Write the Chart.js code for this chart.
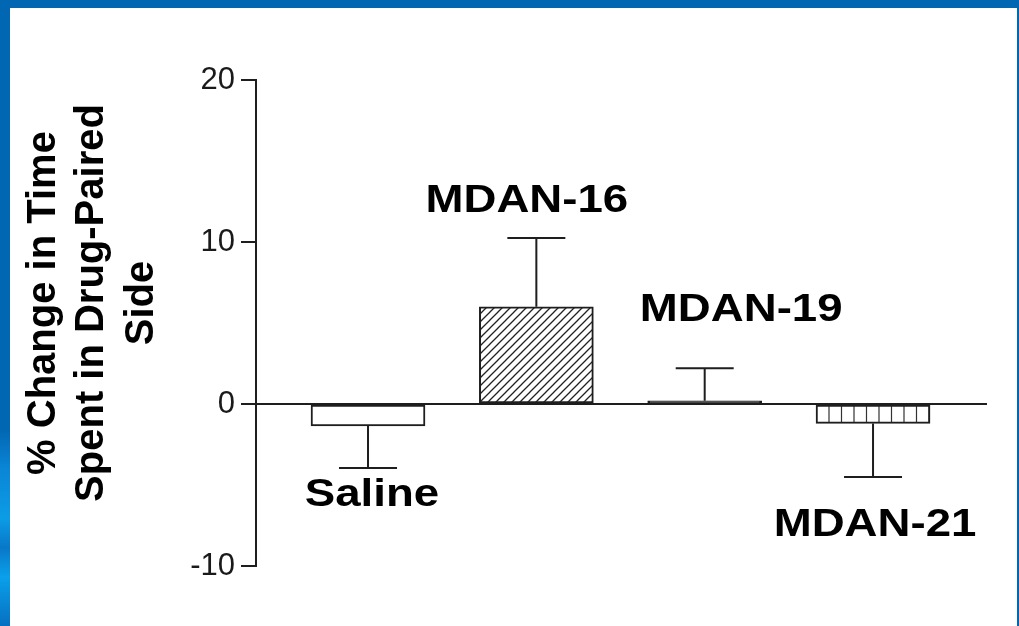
<!DOCTYPE html>
<html>
<head>
<meta charset="utf-8">
<script src="https://cdn.jsdelivr.net/npm/chart.js@4"></script>
<style>
  html, body { margin: 0; padding: 0; }
  body { width: 1019px; height: 626px; background: #0267b2; position: relative; overflow: hidden; }
  #streak { position: absolute; left: 0; top: 430px; width: 10px; height: 196px;
    background: linear-gradient(180deg, #0267b2 0%, #0a86d6 20%, #0c9ce6 45%, #0878c8 60%, #0aa0ea 75%, #0670c0 100%); }
  #wrap { position: absolute; left: 10px; top: 8px; width: 1007px; height: 618px; background: #ffffff; }
  canvas { display: block; }
</style>
</head>
<body>
<div id="streak"></div>
<div id="wrap"><canvas id="c" width="1007" height="618"></canvas></div>
<script>
// ---- data ----
const categories = ['Saline', 'MDAN-16', 'MDAN-19', 'MDAN-21'];
const meanChange = [-1.35, 6.0, 0.2, -1.2];
const semChange = [2.6, 4.25, 2.0, 3.3];
const yTicks = [-10, 0, 10, 20];
const yTitleLines = ['% Change in Time', 'Spent in Drug-Paired', 'Side'];

const FONT = '"Liberation Sans", Arial, Helvetica, sans-serif';

// ---- fill patterns ----
function diagPattern() {
  const c = document.createElement('canvas'); c.width = 8; c.height = 8;
  const g = c.getContext('2d');
  g.fillStyle = '#fff'; g.fillRect(0, 0, 8, 8);
  g.strokeStyle = '#222'; g.lineWidth = 1.3;
  g.beginPath();
  g.moveTo(-1, 9); g.lineTo(9, -1);
  g.moveTo(-1, 1); g.lineTo(1, -1);
  g.moveTo(7, 9); g.lineTo(9, 7);
  g.stroke();
  return g.createPattern(c, 'repeat');
}
function vertPattern() {
  const c = document.createElement('canvas'); c.width = 25; c.height = 4;
  const g = c.getContext('2d');
  g.fillStyle = '#fff'; g.fillRect(0, 0, 25, 4);
  g.strokeStyle = '#333'; g.lineWidth = 1.2;
  g.beginPath();
  g.moveTo(6.5, 0); g.lineTo(6.5, 4);
  g.moveTo(19, 0); g.lineTo(19, 4);
  g.stroke();
  return g.createPattern(c, 'repeat');
}
const fills = ['#ffffff', diagPattern(), '#1e1e1e', vertPattern()];

// ---- plugins ----
const errorBarsAndLabels = {
  id: 'errorBarsAndLabels',
  afterDatasetsDraw(chart, args, opts) {
    const meta = chart.getDatasetMeta(0);
    const ys = chart.scales.y;
    const ctx = chart.ctx;
    ctx.save();
    ctx.strokeStyle = '#1e1e1e';
    ctx.lineWidth = 2;
    meta.data.forEach((bar, i) => {
      const v = meanChange[i], e = semChange[i];
      const end = v >= 0 ? v + e : v - e;
      const x = bar.x;
      const y0 = ys.getPixelForValue(v);
      const y1 = ys.getPixelForValue(end);
      ctx.beginPath();
      ctx.moveTo(x, y0); ctx.lineTo(x, y1);
      ctx.moveTo(x - opts.cap / 2, y1); ctx.lineTo(x + opts.cap / 2, y1);
      ctx.stroke();
      // category label
      const off = opts.labelOffsets[i];
      ctx.save();
      ctx.fillStyle = '#000';
      ctx.font = 'bold 38px ' + FONT;
      ctx.textAlign = 'center';
      ctx.textBaseline = 'alphabetic';
      ctx.translate(x + off[0], y1 + off[1]);
      ctx.scale(opts.stretch, 1);
      ctx.fillText(categories[i], 0, 0);
      ctx.restore();
    });
    ctx.restore();
  }
};

const yTitle = {
  id: 'yTitle',
  afterDraw(chart, args, opts) {
    const ctx = chart.ctx;
    ctx.save();
    ctx.fillStyle = '#000';
    ctx.font = 'bold 40px ' + FONT;
    ctx.textAlign = 'center';
    ctx.textBaseline = 'alphabetic';
    yTitleLines.forEach((t, i) => {
      ctx.save();
      ctx.translate(opts.baselines[i], opts.centerY);
      ctx.rotate(-Math.PI / 2);
      ctx.fillText(t, 0, 0);
      ctx.restore();
    });
    ctx.restore();
  }
};

new Chart(document.getElementById('c'), {
  type: 'bar',
  data: {
    datasets: [{
      data: meanChange.map((v, i) => ({ x: i, y: v })),
      backgroundColor: fills,
      borderColor: '#1e1e1e',
      borderWidth: 2,
      borderSkipped: false,
      barThickness: 114
    }]
  },
  options: {
    responsive: false,
    animation: false,
    layout: { padding: { left: 0, right: 30, top: 72, bottom: 60 } },
    plugins: {
      legend: { display: false },
      tooltip: { enabled: false },
      errorBarsAndLabels: {
        cap: 58,
        stretch: 1.2,
        labelOffsets: [[4, 38], [-9.5, -26], [36.5, -47], [2, 59]]
      },
      yTitle: { baselines: [45, 93, 143], centerY: 295 }
    },
    scales: {
      x: {
        type: 'linear',
        display: false,
        min: -0.6654,
        max: 3.677,
        offset: false
      },
      y: {
        min: yTicks[0],
        max: yTicks[yTicks.length - 1],
        afterBuildTicks: (s) => { s.ticks = yTicks.map(v => ({ value: v })); },
        afterFit: (s) => { s.width = 246; },
        border: { display: true, color: '#1e1e1e', width: 2 },
        grid: {
          drawOnChartArea: true,
          color: (c) => (c.tick && c.tick.value === 0) ? '#1e1e1e' : 'rgba(0,0,0,0)',
          tickColor: '#1e1e1e',
          tickLength: 15,
          lineWidth: 2
        },
        ticks: {
          padding: 6,
          color: '#1a1a1a',
          font: { family: FONT, size: 31 }
        }
      }
    }
  },
  plugins: [errorBarsAndLabels, yTitle]
});
</script>
</body>
</html>
